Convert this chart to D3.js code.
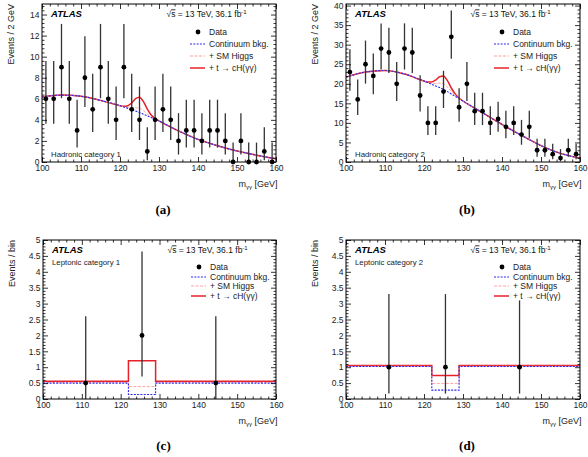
<!DOCTYPE html>
<html>
<head>
<meta charset="utf-8">
<script src="https://cdn.jsdelivr.net/npm/d3@7"></script>
<style>
  body { margin: 0; background: #fff; }
  svg text { font-family: "Liberation Sans", Arial, Helvetica, sans-serif; }
</style>
</head>
<body>
<svg id="chart" width="588" height="457"></svg>
<script>
(function () {
  'use strict';

  // --- hadronic categories: 2 GeV bins, counts ---
  var binCentres = [101, 103, 105, 107, 109, 111, 113, 115, 117, 119, 121, 123, 125, 127, 129,
                    131, 133, 135, 137, 139, 141, 143, 145, 147, 149, 151, 153, 155, 157, 159];
  var hadCat1Data = [6, 6, 9, 6, 3, 8, 5, 9, 6, 4, 9, 5, 4, 1, 4,
                     5, 4, 2, 3, 3, 2, 3, 3, 2, 0, 2, 0, 0, 1, 0];
  var hadCat2Data = [23, 16, 25, 22, 29, 28, 20, 29, 28, 17, 10, 10, 18, 32, 14,
                     20, 13, 13, 10, 11, 9, 10, 7, 9, 3, 3, 2, 1, 3, 2];

  // 68% Poisson intervals for n = 0..32
  var poissonLo = [0, 0.173, 0.708, 1.367, 2.086, 2.840, 3.620, 4.419, 5.232, 6.057, 6.891, 7.734,
                   8.585, 9.441, 10.30, 11.17, 12.04, 12.92, 13.80, 14.68, 15.57, 16.46, 17.35,
                   18.24, 19.14, 20.04, 20.94, 21.84, 22.74, 23.65, 24.56, 25.47, 26.38];
  var poissonHi = [1.841, 3.300, 4.638, 5.918, 7.163, 8.382, 9.584, 10.77, 11.95, 13.11, 14.27,
                   15.42, 16.55, 17.70, 18.83, 19.96, 21.08, 22.20, 23.32, 24.43, 25.55, 26.65,
                   27.76, 28.86, 29.96, 31.06, 32.16, 33.26, 34.35, 35.44, 36.54, 37.62, 38.71];

  // continuum background fit, sampled every 5 GeV
  var bkgMass = [100, 105, 110, 115, 120, 125, 130, 135, 140, 145, 150, 155, 160];
  var hadCat1Bkg = [6.17, 6.35, 6.25, 5.85, 5.35, 4.70, 3.90, 2.95, 2.15, 1.55, 1.05, 0.65, 0.30];
  var hadCat2Bkg = [21.7, 23.0, 23.4, 22.5, 20.7, 18.6, 15.6, 12.6, 9.6, 6.8, 4.2, 2.2, 1.0];

  // resonant contributions on top of the continuum, 120-130 GeV
  var peakMass = [120, 121, 122, 123, 124, 125, 126, 127, 128, 129, 130];
  var hadCat1SM  = [0, 0.02, 0.07, 0.18, 0.33, 0.40, 0.33, 0.18, 0.07, 0.02, 0];
  var hadCat1Sig = [0, 0.05, 0.18, 0.47, 0.86, 1.05, 0.86, 0.47, 0.18, 0.05, 0];
  var hadCat2SM  = [0, 0.06, 0.25, 0.62, 1.15, 1.40, 1.15, 0.62, 0.25, 0.06, 0];
  var hadCat2Sig = [0, 0.09, 0.36, 0.90, 1.64, 2.00, 1.64, 0.90, 0.36, 0.09, 0];

  // --- leptonic categories: three wide bins ---
  var lepEdges = [100, 122, 129, 160];
  var lepCentres = [111, 125.5, 144.5];
  var lepCat1Data = [0.5, 2, 0.5];
  var lepCat1Lo = [0, 0.71, 0];
  var lepCat1Hi = [2.6, 4.64, 2.6];
  var lepCat1Bkg = [0.50, 0.14, 0.50];
  var lepCat1SM = [0.52, 0.39, 0.52];
  var lepCat1Total = [0.56, 1.20, 0.56];
  var lepCat2Data = [1, 1, 1];
  var lepCat2Lo = [0.17, 0.17, 0.17];
  var lepCat2Hi = [3.3, 3.3, 3.1];
  var lepCat2Bkg = [1.02, 0.28, 1.02];
  var lepCat2SM = [1.03, 0.49, 1.03];
  var lepCat2Total = [1.05, 0.74, 1.05];

  var STYLE = {
    bkg: { stroke: '#2b2bf2', dash: '2,1.3', width: 1.1 },
    sm:  { stroke: '#ff8c8c', dash: '3,1.5', width: 0.8 },
    tot: { stroke: '#e62228', dash: null, width: 1.5 }
  };
  var LEGEND = [
    { key: 'data', label: 'Data' },
    { key: 'bkg', label: 'Continuum bkg.' },
    { key: 'sm', label: '+ SM Higgs' },
    { key: 'tot', label: '+ t \u2192 cH(\u03b3\u03b3)' }
  ];

  var panels = [
    { tag: '(a)', kind: 'had', cat: 'Hadronic category 1', yTitle: 'Events / 2 GeV',
      left: 42, right: 276, top: 4, bottom: 162, yMax: 15, yMajor: 2, yMinor: 0.4,
      legendRows: [28, 40, 52, 64], capY: 214,
      data: hadCat1Data, bkg: hadCat1Bkg, sm: hadCat1SM, sig: hadCat1Sig },
    { tag: '(b)', kind: 'had', cat: 'Hadronic category 2', yTitle: 'Events / 2 GeV',
      left: 346, right: 580, top: 4, bottom: 162, yMax: 40.4, yMajor: 5, yMinor: 1,
      legendRows: [28, 40, 52, 64], capY: 214,
      data: hadCat2Data, bkg: hadCat2Bkg, sm: hadCat2SM, sig: hadCat2Sig },
    { tag: '(c)', kind: 'lep', cat: 'Leptonic category 1', yTitle: 'Events / bin',
      left: 43, right: 276, top: 240, bottom: 399, yMax: 5, yMajor: 0.5, yMinor: 0.1,
      legendRows: [27, 37, 46, 56], capY: 449.5,
      data: lepCat1Data, lo: lepCat1Lo, hi: lepCat1Hi,
      bkg: lepCat1Bkg, sm: lepCat1SM, tot: lepCat1Total },
    { tag: '(d)', kind: 'lep', cat: 'Leptonic category 2', yTitle: 'Events / bin',
      left: 346, right: 580, top: 240, bottom: 399, yMax: 5, yMajor: 0.5, yMinor: 0.1,
      legendRows: [27, 37, 46, 56], capY: 449.5,
      data: lepCat2Data, lo: lepCat2Lo, hi: lepCat2Hi,
      bkg: lepCat2Bkg, sm: lepCat2SM, tot: lepCat2Total }
  ];

  var svg = d3.select('#chart');

  function isMultiple(v, step) {
    var r = v / step;
    return Math.abs(r - Math.round(r)) < 1e-6;
  }

  function applyStyle(sel, s) {
    sel.attr('fill', 'none').attr('stroke', s.stroke).attr('stroke-width', s.width);
    if (s.dash) sel.attr('stroke-dasharray', s.dash);
    return sel;
  }

  function drawAxes(g, p, x, y) {
    var xMajor = d3.range(100, 161, 10);
    var xMinor = d3.range(100, 161, 2).filter(function (v) { return !isMultiple(v, 10); });
    var yAll = d3.range(0, p.yMax + 1e-6, p.yMinor).map(function (v) { return +v.toFixed(3); });
    var yMajor = yAll.filter(function (v) { return isMultiple(v, p.yMajor); });
    var yMinor = yAll.filter(function (v) { return !isMultiple(v, p.yMajor); });
    var fmt = function (d) { return String(+d.toFixed(2)); };

    var axes = [
      { a: d3.axisBottom(x).tickValues(xMajor).tickSize(-5).tickPadding(2.5).tickFormat(fmt), t: [0, p.bottom] },
      { a: d3.axisBottom(x).tickValues(xMinor).tickSize(-2.5).tickFormat(''), t: [0, p.bottom] },
      { a: d3.axisTop(x).tickValues(xMajor).tickSize(-5).tickFormat(''), t: [0, p.top] },
      { a: d3.axisTop(x).tickValues(xMinor).tickSize(-2.5).tickFormat(''), t: [0, p.top] },
      { a: d3.axisLeft(y).tickValues(yMajor).tickSize(-5).tickPadding(2.5).tickFormat(fmt), t: [p.left, 0] },
      { a: d3.axisLeft(y).tickValues(yMinor).tickSize(-2.5).tickFormat(''), t: [p.left, 0] },
      { a: d3.axisRight(y).tickValues(yMajor).tickSize(-5).tickFormat(''), t: [p.right, 0] },
      { a: d3.axisRight(y).tickValues(yMinor).tickSize(-2.5).tickFormat(''), t: [p.right, 0] }
    ];
    axes.forEach(function (ax) {
      var ag = g.append('g').attr('transform', 'translate(' + ax.t[0] + ',' + ax.t[1] + ')').call(ax.a);
      ag.select('.domain').remove();
      ag.attr('font-family', null).attr('font-size', null);
      ag.selectAll('line').attr('stroke', '#000').attr('stroke-width', 0.8);
      ag.selectAll('text').style('font-size', '8.5px').attr('fill', '#222');
    });

    g.append('rect')
      .attr('x', p.left).attr('y', p.top)
      .attr('width', p.right - p.left).attr('height', p.bottom - p.top)
      .attr('fill', 'none').attr('stroke', '#000').attr('stroke-width', 1);

    // axis titles
    var xt = g.append('text')
      .attr('x', p.right + 1.5).attr('y', p.bottom + 25)
      .attr('text-anchor', 'end').style('font-size', '9px').attr('fill', '#222');
    xt.append('tspan').text('m');
    xt.append('tspan').attr('dy', 2).style('font-size', '6px').text('\u03b3\u03b3');
    xt.append('tspan').attr('dy', -2).text(' [GeV]');

    g.append('text')
      .attr('transform', 'translate(' + (p.left - 28.5) + ',' + p.top + ') rotate(-90)')
      .attr('text-anchor', 'end').style('font-size', '9px').attr('fill', '#222')
      .text(p.yTitle);
  }

  function drawHadronic(g, p, x, y) {
    var masses = d3.merge([bkgMass, peakMass]).sort(d3.ascending)
      .filter(function (m, i, arr) { return i === 0 || m !== arr[i - 1]; });
    var bkgAt = d3.scaleLinear().domain(bkgMass).range(p.bkg);
    var smAt = d3.scaleLinear().domain(peakMass).range(p.sm).clamp(true);
    var sigAt = d3.scaleLinear().domain(peakMass).range(p.sig).clamp(true);

    function curve(level) {
      return masses.map(function (m) {
        var v = bkgAt(m);
        if (level >= 1) v += smAt(m);
        if (level >= 2) v += sigAt(m);
        return [m, v];
      });
    }
    var line = d3.line()
      .x(function (d) { return x(d[0]); })
      .y(function (d) { return y(d[1]); })
      .curve(d3.curveMonotoneX);

    applyStyle(g.append('path').attr('d', line(curve(2))), STYLE.tot);
    applyStyle(g.append('path').attr('d', line(curve(1))), STYLE.sm);
    applyStyle(g.append('path').attr('d', line(curve(0))), STYLE.bkg);

    var pts = binCentres.map(function (m, i) {
      var n = p.data[i];
      return { m: m, n: n, lo: poissonLo[n], hi: poissonHi[n] };
    });
    drawPoints(g, pts, x, y);
  }

  function drawLeptonic(g, p, x, y) {
    var step = d3.line()
      .x(function (d) { return x(d[0]); })
      .y(function (d) { return y(d[1]); })
      .curve(d3.curveStepAfter);
    function stepPts(vals) {
      var out = vals.map(function (v, i) { return [lepEdges[i], v]; });
      out.push([lepEdges[lepEdges.length - 1], vals[vals.length - 1]]);
      return out;
    }
    applyStyle(g.append('path').attr('d', step(stepPts(p.tot))), STYLE.tot);
    applyStyle(g.append('path').attr('d', step(stepPts(p.sm))), STYLE.sm);
    applyStyle(g.append('path').attr('d', step(stepPts(p.bkg))), STYLE.bkg);

    var pts = lepCentres.map(function (m, i) {
      return { m: m, n: p.data[i], lo: p.lo[i], hi: p.hi[i] };
    });
    drawPoints(g, pts, x, y);
  }

  function drawPoints(g, pts, x, y) {
    g.append('g').selectAll('line').data(pts).enter().append('line')
      .attr('x1', function (d) { return x(d.m); })
      .attr('x2', function (d) { return x(d.m); })
      .attr('y1', function (d) { return y(d.lo); })
      .attr('y2', function (d) { return y(d.hi); })
      .attr('stroke', '#333').attr('stroke-width', 1.3);
    g.append('g').selectAll('circle').data(pts).enter().append('circle')
      .attr('cx', function (d) { return x(d.m); })
      .attr('cy', function (d) { return y(d.n); })
      .attr('r', 2.4).attr('fill', '#000');
  }

  function drawLabels(g, p) {
    g.append('text')
      .attr('x', p.left + 9).attr('y', p.top + 13.4)
      .style('font-size', '9.5px').style('font-weight', 'bold').style('font-style', 'italic')
      .text('ATLAS');

    var t = g.append('text')
      .attr('x', p.left + 124.5).attr('y', p.top + 13.4)
      .style('font-size', '8.5px').attr('fill', '#111');
    t.append('tspan').text('\u221a');
    t.append('tspan').style('text-decoration', 'overline').text('s');
    t.append('tspan').text(' = 13 TeV, 36.1 fb');
    t.append('tspan').attr('dy', -3.5).style('font-size', '6px').text('-1');

    g.append('text')
      .attr('x', p.left + 9)
      .attr('y', p.kind === 'had' ? p.bottom - 5.5 : p.top + 24.5)
      .style('font-size', '7.8px').attr('fill', '#222')
      .text(p.cat);

    // legend
    var lx = p.left + 148;
    LEGEND.forEach(function (item, i) {
      var cy = p.top + p.legendRows[i];
      if (item.key === 'data') {
        g.append('circle').attr('cx', lx + 8).attr('cy', cy).attr('r', 2.4).attr('fill', '#000');
      } else {
        applyStyle(g.append('line')
          .attr('x1', lx).attr('x2', lx + 15).attr('y1', cy).attr('y2', cy), STYLE[item.key]);
      }
      g.append('text')
        .attr('x', lx + 19).attr('y', cy + 3)
        .style('font-size', '8.5px').attr('fill', '#222')
        .text(item.label);
    });

    svg.append('text')
      .attr('x', (p.left + p.right) / 2 + 4).attr('y', p.capY)
      .attr('text-anchor', 'middle')
      .style('font-family', '"Liberation Serif", "DejaVu Serif", serif')
      .style('font-size', '13px').style('font-weight', 'bold')
      .text(p.tag);
  }

  panels.forEach(function (p) {
    var x = d3.scaleLinear().domain([100, 160]).range([p.left, p.right]);
    var y = d3.scaleLinear().domain([0, p.yMax]).range([p.bottom, p.top]);
    var g = svg.append('g').attr('class', 'panel');
    if (p.kind === 'had') drawHadronic(g, p, x, y);
    else drawLeptonic(g, p, x, y);
    drawAxes(g, p, x, y);
    drawLabels(g, p);
  });
})();
</script>
</body>
</html>
